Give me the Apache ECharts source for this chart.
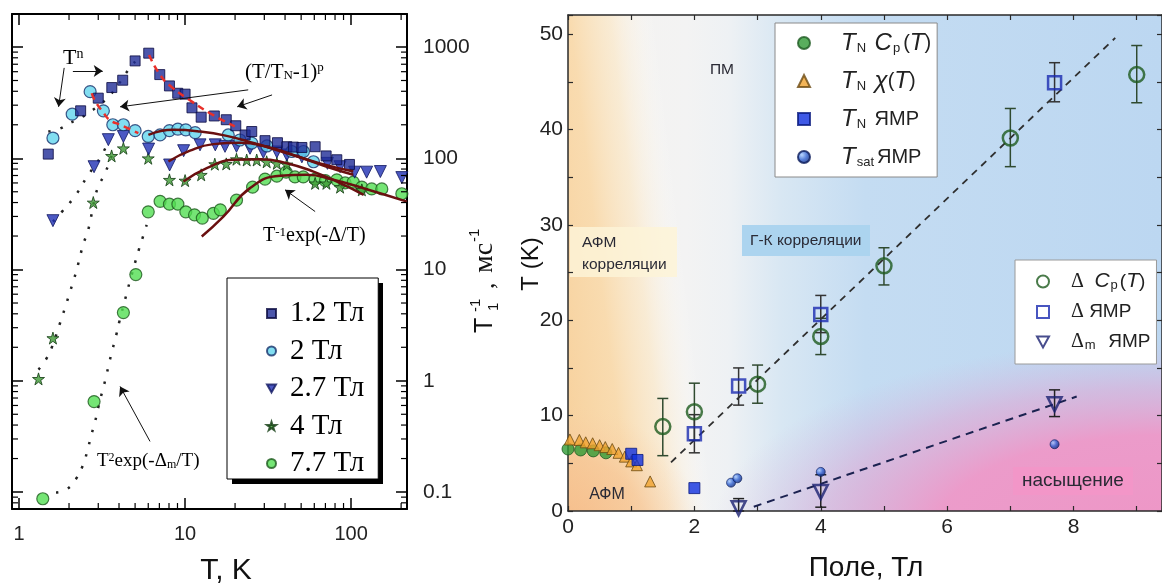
<!DOCTYPE html>
<html><head><meta charset="utf-8">
<script src="https://cdn.jsdelivr.net/npm/echarts@6/dist/echarts.min.js"></script>
<style>html,body{margin:0;padding:0;background:#fff}#c{width:1162px;height:588px}</style>
</head><body><div id="c"></div><script>
const SANS = "'Liberation Sans', Arial, Helvetica, sans-serif";
const SERIF = "'Liberation Serif', 'Times New Roman', serif";

// ---------- LEFT PANEL: 1/T1 (ms^-1) vs T (K) ----------
const T12 = [1.50,2.35,3.0,3.62,4.21,5.0,6.04,7.04,8.05,9.03,10.0,11.0,12.5,15.0,17.7,20.2,23.0,25.2,30.3,36.0,41.0,44.9,50.5,60.7,70.7,82.0,97.7];
const R12 = [109,267,347,432,503,750,880,565,447,384,377,284,234,240,222,196,162,174,144,138,127,126,125,127,105,97,88];
const T20 = [1.60,2.09,2.68,3.22,3.67,4.25,5.0,6.0,7.07,8.05,9.05,10.1,11.5,18.2,21.4,25.2,31.1,43.9,51.6,59.3];
const R20 = [152,249,397,267,200,200,177,157,162,177,183,180,170,162,146,137,129,115,115,93];
const T27 = [1.60,2.83,3.45,4.25,6.03,8.07,9.8,12.3,15.2,17.4,20.4,24.6,29.6,35.7,41,50.5,72,85.8,105,124,150,202];
const R27 = [27.5,84,147,157,121,87,117,132,132,128,128,123,113,114,107,103,90,84,75,75,76,67];
const T40 = [1.31,1.60,2.80,3.61,4.25,6.0,8.05,10.0,12.5,15.1,17.7,20.4,23.5,27.0,31.0,35.7,41,60.7,71,85.8,116];
const R40 = [1.04,2.42,40,105,123,100,64,63,71,88.5,89,98,96.5,96.5,93,90,88,59.5,59.5,55,52];
const T77 = [1.39,2.83,4.25,5.05,6.0,7.07,8.05,9.05,10.1,11.4,12.7,14.8,16.3,20.4,25.5,30.3,35.7,40.6,45.9,51.5,60.7,70,82,92,103,116,133,153,202];
const R77 = [0.087,0.65,4.1,9.0,33,41,38.7,38.7,33,31,29,32,34.4,42,55,65,69,75,68,68,65,63,64,60,61,55,53,53,48];

// fits T^-1 exp(-D/T)
const fitA_T = [6.01,8.50,12.3,17.8,25.8,41.0,65.0,103];
const fitA_R = [162,180,174,159,137,111,90,76];
const fitB_T = [7.94,10.7,14.8,21.4,31.1,44.9,71.4,103];
const fitB_R = [93.4,117,134,138,127,107,84,71];
const fitC_T = [9.77,13.5,19.5,28.3,41.0,59.3,85.8,119];
const fitC_R = [61.8,81.5,96.8,98.2,90.3,75.9,59.7,46.9];
const fitD_T = [12.6,17.0,24.6,37.4,54.1,78.2,124,217];
const fitD_R = [19.8,29.9,53.9,69.5,71,64,52.7,40.8];
// fits (T/TN-1)^p
const redA_T = [6.07,7.07,8.32,11.0,14.1,19.9];
const redA_R = [849,561,435,323,254,193];
const redB_T = [2.74,2.87,3.2,3.53,4.06,5.23];
const redB_R = [384,328,260,220,200,168];
// dotted fits T^n and T^2 exp(-Dm/T)
const dotA_T = [1.5,1.77,1.99,2.33,2.68,3.0,3.38,3.88,4.4,5.0];
const dotA_R = [174,185,205,229,262,295,345,440,580,740];
const dotB_T = [1.6,1.81,2.2,2.58,2.83,3.07,3.45];
const dotB_R = [27,33,47,69,84,100,140];
const dotC_T = [1.31,1.45,1.57,1.77,1.89,2.01,2.12,2.23,2.33,2.44,2.58,2.68,2.83,3.0,3.22,3.42,3.61];
const dotC_R = [1.26,1.55,1.97,3.34,4.5,6.05,7.8,10.1,13.1,17.0,21.5,27,40.8,55.7,68.6,84,105];
const dotD_T = [1.67,1.94,2.20,2.42,2.58,2.71,2.87,3.0,3.16,3.33,3.48,3.65,3.84,4.02,4.41,4.62,5.3,5.6,5.87];
const dotD_R = [0.099,0.106,0.131,0.173,0.235,0.316,0.43,0.575,0.785,1.06,1.42,1.90,2.54,3.41,5.8,7.55,15.6,20.1,25.2];
// annotation arrows [from, to] in data coordinates
const arrows = [
  [[1.87,649],[1.73,290]],
  [[2.11,610],[3.19,610]],
  [[24.0,412],[4.06,290]],
  [[33.4,371],[20.6,290]],
  [[60.7,33.2],[40.0,52]],
  [[6.15,0.285],[4.06,0.889]]
];
const minorX = [2,3,4,5,6,7,8,9,20,30,40,50,60,70,80,90,200];
const minorY = [0.08,0.09,0.2,0.3,0.4,0.5,0.6,0.7,0.8,0.9,2,3,4,5,6,7,8,9,20,30,40,50,60,70,80,90,200,300,400,500,600,700,800,900];

// ---------- RIGHT PANEL: T (K) vs field (T) ----------
const fTNcp = [0,0.2,0.4,0.6];            const tTNcp = [6.5,6.4,6.3,6.1];
const fTNchi = [0.03,0.18,0.28,0.39,0.50,0.59,0.70,0.80,0.90,1.0,1.09,1.30];
const tTNchi = [7.5,7.45,7.2,7.1,6.9,6.7,6.5,6.1,5.7,5.2,4.8,3.1];
const fTNnmr = [1.0,1.1,2.0];              const tTNnmr = [6.0,5.35,2.4];
const fTsat = [2.58,2.68,4.0,7.7];         const tTsat = [2.97,3.43,4.1,7.0];
const fDcp = [1.5,2,3,4,5,7,9];
const tDcp = [8.85,10.4,13.3,18.3,25.7,39.1,45.75];
const loDcp = [5.8,7.4,11.3,16.4,23.7,36.1,42.8];
const hiDcp = [11.8,13.4,15.3,20.2,27.6,42.2,48.8];
const fDnmr = [2,2.7,4,7.7];
const tDnmr = [8.1,13.1,20.6,44.9];
const loDnmr = [6.1,11.1,18.7,42.9];
const hiDnmr = [10.1,15.0,22.6,47.0];
const fDm = [2.7,4,7.7];
const tDm = [0.3,2.0,11.2];
const loDm = [0,0.4,9.9];
const hiDm = [1.3,3.8,12.7];
const lineUpF = [1.63,8.66]; const lineUpT = [5.1,49.6];
const lineLoF = [2.94,8.05]; const lineLoT = [0.45,12.0];

const zip = (a,b) => a.map((v,i)=>[v,b[i]]);
const zip3 = (a,b,c) => a.map((v,i)=>[v,b[i],c[i]]);
const STAR = 'path://M50,0 L61,35 L98,35 L68,57 L79,91 L50,70 L21,91 L32,57 L2,35 L39,35 Z';
const DOWN = 'path://M0,0 L100,0 L50,90 Z';

function decadeFmt(v){
  const l = Math.log10(v);
  if (Math.abs(l - Math.round(l)) > 1e-6) return '';
  const p = Math.round(l);
  return p < 0 ? Math.pow(10,p).toFixed(-p) : String(Math.round(Math.pow(10,p)));
}
const blackLine = {show:true, onZero:false, lineStyle:{color:'#000', width:2}};
const blackTick = {show:true, inside:true, length:11, lineStyle:{color:'#000', width:1.5}};
const grayLine = {show:true, onZero:false, lineStyle:{color:'#2a2a2a', width:1.5}};
const grayTick = {show:true, inside:true, length:5, lineStyle:{color:'#2a2a2a', width:1.2}};

function errRender(color){
  return function(params, api){
    const x = api.value(0), lo = api.value(1), hi = api.value(2);
    const p1 = api.coord([x, lo]), p2 = api.coord([x, hi]);
    const w = 5.5, st = {stroke:color, lineWidth:1.5};
    return {type:'group', children:[
      {type:'line', shape:{x1:p1[0],y1:p1[1],x2:p2[0],y2:p2[1]}, style:st},
      {type:'line', shape:{x1:p1[0]-w,y1:p1[1],x2:p1[0]+w,y2:p1[1]}, style:st},
      {type:'line', shape:{x1:p2[0]-w,y1:p2[1],x2:p2[0]+w,y2:p2[1]}, style:st}
    ]};
  };
}
function lineS(T, R, color, width, type, z, smooth){
  return {type:'line', xAxisIndex:0, yAxisIndex:0, data:zip(T,R), symbol:'none', smooth:smooth, z:z,
    silent:true, lineStyle:{color:color, width:width, type:type, cap:'butt'}};
}

const LEG_R1 = {
  'TN Cp': '{sp| }{i|T}{s|N} {i|C}{s|p}{n|(}{i|T}{n|)}',
  'TN chi': '{sp| }{i|T}{s|N} {i|χ}{n|(}{i|T}{n|)}',
  'TN NMR': '{sp| }{i|T}{s|N} {n|ЯМР}',
  'Tsat': '{sp| }{i|T}{s|sat}{n|ЯМР}'
};
const LEG_R2 = {
  'D Cp': '{sp| }{g|Δ}{n|  }{i|C}{s|p}{n|(}{i|T}{n|)}',
  'D NMR': '{sp| }{g|Δ}{n| ЯМР}',
  'Dm NMR': '{sp| }{g|Δ}{s|m}{n|  ЯМР}'
};

const PL=568, PT=15, PW=594, PH=496;
const tsatColor = {type:'radial', x:0.35, y:0.35, r:0.7, colorStops:[
  {offset:0,color:'#a8ccff'},{offset:0.5,color:'#2d5fd0'},{offset:1,color:'#0b2370'}]};

const option = {
  animation:false,
  backgroundColor:'#fff',
  grid:[
    {left:12, top:14, width:395, height:495, outerBoundsMode:'none', containLabel:false},
    {left:PL, top:PT, width:PW, height:PH, outerBoundsMode:'none', containLabel:false}
  ],
  xAxis:[
    {gridIndex:0, type:'log', logBase:10, min:0.907, max:217, position:'bottom', axisLine:blackLine, axisTick:blackTick,
     axisLabel:{fontFamily:SANS, fontSize:20, color:'#222', margin:15, formatter:decadeFmt, showMinLabel:false, showMaxLabel:false},
     splitLine:{show:false}, minorTick:{show:false}},
    {gridIndex:0, type:'log', logBase:10, min:0.907, max:217, position:'top', axisLine:blackLine, axisTick:blackTick,
     axisLabel:{show:false}, splitLine:{show:false}},
    {gridIndex:1, type:'value', min:0, max:9.4, interval:1, position:'bottom', axisLine:grayLine, axisTick:grayTick,
     axisLabel:{fontFamily:SANS, fontSize:21, color:'#222', margin:6,
       formatter:v => (Math.abs(v-Math.round(v))<1e-9 && Math.round(v)%2===0) ? String(Math.round(v)) : ''},
     splitLine:{show:false}},
    {gridIndex:1, type:'value', min:0, max:9.4, interval:1, position:'top', axisLine:grayLine, axisTick:grayTick,
     axisLabel:{show:false}, splitLine:{show:false}}
  ],
  yAxis:[
    {gridIndex:0, type:'log', logBase:10, min:0.0704, max:1980, position:'right', axisLine:blackLine, axisTick:blackTick,
     axisLabel:{fontFamily:SANS, fontSize:21, color:'#222', margin:16, formatter:decadeFmt, showMinLabel:false, showMaxLabel:false},
     splitLine:{show:false}},
    {gridIndex:0, type:'log', logBase:10, min:0.0704, max:1980, position:'left', axisLine:blackLine, axisTick:blackTick,
     axisLabel:{show:false}, splitLine:{show:false}},
    {gridIndex:1, type:'value', min:0, max:52, interval:5, position:'left', axisLine:grayLine, axisTick:grayTick,
     axisLabel:{fontFamily:SANS, fontSize:21, color:'#222', margin:5,
       formatter:v => (Math.abs(v-Math.round(v))<1e-9 && Math.round(v)%10===0) ? String(Math.round(v)) : ''},
     splitLine:{show:false}},
    {gridIndex:1, type:'value', min:0, max:52, interval:5, position:'right', axisLine:grayLine, axisTick:grayTick,
     axisLabel:{show:false}, splitLine:{show:false}}
  ],
  legend:[
    {data:[{name:'1.2 Тл'},{name:'2 Тл'},{name:'2.7 Тл', icon:DOWN},{name:'4 Тл'},{name:'7.7 Тл'}],
     orient:'vertical', left:227, top:278, padding:[21,14,1,39],
     itemWidth:9, itemHeight:9, itemGap:8.5, selectedMode:false, z:10,
     backgroundColor:'#fff', borderColor:'#000', borderWidth:1, borderRadius:0,
     formatter:n => '{sp| }' + n,
     textStyle:{fontFamily:SERIF, fontSize:29, color:'#000', rich:{sp:{width:9}}}},
    {data:[{name:'TN Cp'},{name:'TN chi'},{name:'TN NMR'},{name:'Tsat'}], orient:'vertical', left:775, top:23, padding:[8,6,8,22],
     itemWidth:12, itemHeight:12, itemGap:14, selectedMode:false,
     backgroundColor:'#fff', borderColor:'#8a8a8a', borderWidth:1, borderRadius:0,
     formatter:n => LEG_R1[n],
     textStyle:{fontFamily:SANS, fontSize:20, color:'#222', rich:{
       sp:{width:26}, i:{fontFamily:SANS, fontStyle:'italic', fontSize:24, color:'#222'},
       s:{fontFamily:SANS, fontSize:13, color:'#222', verticalAlign:'bottom', padding:[0,3,0,1]},
       n:{fontFamily:SANS, fontSize:20, color:'#222'}}}},
    {data:[{name:'D Cp'},{name:'D NMR'},{name:'Dm NMR', icon:DOWN}], orient:'vertical', left:1015, top:260, padding:[11,6,12,21],
     itemWidth:12, itemHeight:12, itemGap:10, selectedMode:false,
     backgroundColor:'#fff', borderColor:'#9a9a9a', borderWidth:1, borderRadius:0,
     formatter:n => LEG_R2[n],
     textStyle:{fontFamily:SANS, fontSize:19, color:'#222', rich:{
       sp:{width:17}, g:{fontFamily:SERIF, fontSize:20, color:'#222'},
       i:{fontFamily:SANS, fontStyle:'italic', fontSize:21, color:'#222'},
       s:{fontFamily:SANS, fontSize:13, color:'#222', verticalAlign:'bottom', padding:[0,2,0,1]},
       n:{fontFamily:SANS, fontSize:19, color:'#222'}}}}
  ],
  graphic:[
    // left legend drop shadow
    {type:'rect', z:1, silent:true, shape:{x:232,y:283,width:151,height:201}, style:{fill:'#000'}},
    // right panel backgrounds
    {type:'rect', z:-10, silent:true, shape:{x:PL,y:PT,width:PW,height:PH},
     style:{fill:{type:'linear', x:0, y:0, x2:1, y2:0, colorStops:[
       {offset:0,color:'#f4f2ef'},{offset:0.2,color:'#f3f3f3'},{offset:0.27,color:'#eef1f4'},
       {offset:0.36,color:'#d8e7f3'},{offset:0.5,color:'#c4dcf2'},{offset:1,color:'#bcd7f1'}]}}},
    {type:'rect', z:-9, silent:true, shape:{x:PL,y:PT,width:240,height:PH},
     style:{fill:{type:'linear', x:568, y:511, x2:768, y2:487, global:true, colorStops:[
       {offset:0,color:'rgba(247,208,155,1)'},{offset:0.3,color:'rgba(249,218,172,0.95)'},
       {offset:0.5,color:'rgba(251,232,200,0.7)'},{offset:0.62,color:'rgba(253,244,228,0.35)'},
       {offset:0.72,color:'rgba(255,255,255,0)'},{offset:1,color:'rgba(255,255,255,0)'}]}}},
    {type:'rect', z:-8, silent:true, shape:{x:PL,y:380,width:170,height:131},
     style:{fill:{type:'radial', x:568, y:540, r:135, global:true, colorStops:[
       {offset:0,color:'rgba(245,182,132,0.8)'},{offset:0.6,color:'rgba(246,192,145,0.55)'},
       {offset:1,color:'rgba(248,210,170,0)'}]}}},
    {type:'rect', z:-7, silent:true, x:700, y:300, scaleY:0.422, shape:{x:0,y:0,width:462,height:500},
     style:{fill:{type:'radial', x:462, y:545, r:450, global:true, colorStops:[
       {offset:0,color:'rgba(238,150,198,1)'},{offset:0.5,color:'rgba(238,152,200,0.95)'},
       {offset:0.75,color:'rgba(225,165,210,0.55)'},{offset:1,color:'rgba(210,185,225,0)'}]}}},
    // right panel region labels
    {type:'rect', z:-6, silent:true, shape:{x:570,y:227,width:107,height:50}, style:{fill:'rgba(253,243,215,0.85)'}},
    {type:'text', z:20, silent:true, x:582, y:243, style:{text:'АФМ', font:'15.5px '+SANS, fill:'#2a2a35', textVerticalAlign:'middle'}},
    {type:'text', z:20, silent:true, x:582, y:265, style:{text:'корреляции', font:'15.5px '+SANS, fill:'#2a2a35', textVerticalAlign:'middle'}},
    {type:'rect', z:-6, silent:true, shape:{x:742,y:225,width:128,height:31}, style:{fill:'#acd4ef'}},
    {type:'text', z:20, silent:true, x:750, y:241, style:{text:'Г-К корреляции', font:'15.5px '+SANS, fill:'#2a2a35', textVerticalAlign:'middle'}},
    {type:'rect', z:-6, silent:true, shape:{x:1013,y:467,width:120,height:28}, style:{fill:'rgba(243,150,200,0.9)'}},
    {type:'text', z:20, silent:true, x:1073, y:481, style:{text:'насыщение', font:'19px '+SANS, fill:'#2a2a35', textAlign:'center', textVerticalAlign:'middle'}},
    {type:'text', z:20, silent:true, x:722, y:70, style:{text:'ПМ', font:'15.5px '+SANS, fill:'#2a2a35', textAlign:'center', textVerticalAlign:'middle'}},
    {type:'text', z:20, silent:true, x:607, y:495, style:{text:'АФМ', font:'16px '+SANS, fill:'#2a2a35', textAlign:'center', textVerticalAlign:'middle'}},
    // axis titles
    {type:'text', z:20, silent:true, x:866, y:568, style:{text:'Поле, Тл', font:'28px '+SANS, fill:'#111', textAlign:'center', textVerticalAlign:'middle'}},
    {type:'text', z:20, silent:true, x:226, y:571, style:{text:'T, K', font:'30px '+SANS, fill:'#111', textAlign:'center', textVerticalAlign:'middle'}},
    {type:'text', z:20, silent:true, x:531, y:264, rotation:Math.PI/2, style:{text:'T (K)', font:'24px '+SANS, fill:'#111', textAlign:'center', textVerticalAlign:'middle'}},
    {type:'group', z:20, silent:true, x:485, y:333, rotation:Math.PI/2, children:[
      {type:'text', x:0, y:0, style:{text:'T', font:'25px '+SANS, fill:'#111', textVerticalAlign:'middle'}},
      {type:'text', x:21, y:-9, style:{text:'-1', font:'15px '+SANS, fill:'#111', textVerticalAlign:'middle'}},
      {type:'text', x:22, y:9, style:{text:'1', font:'15px '+SANS, fill:'#111', textVerticalAlign:'middle'}},
      {type:'text', x:44, y:2, style:{text:',', font:'26px '+SERIF, fill:'#111', textVerticalAlign:'middle'}},
      {type:'text', x:60, y:0, style:{text:'мс', font:'28px '+SERIF, fill:'#111', textVerticalAlign:'middle'}},
      {type:'text', x:91, y:-10, style:{text:'-1', font:'15px '+SANS, fill:'#111', textVerticalAlign:'middle'}}
    ]},
    // left annotations
    {type:'text', z:20, silent:true, x:63, y:58, style:{text:'{a|T}{b|n}', textVerticalAlign:'middle',
      rich:{a:{fontFamily:SERIF, fontSize:22, color:'#111'}, b:{fontFamily:SERIF, fontSize:14, color:'#111', verticalAlign:'top'}}}},
    {type:'text', z:20, silent:true, x:245, y:72, style:{text:'{a|(T/T}{s|N}{a|-1)}{b|p}', textVerticalAlign:'middle',
      rich:{a:{fontFamily:SERIF, fontSize:21, color:'#111'}, s:{fontFamily:SERIF, fontSize:13, color:'#111', verticalAlign:'bottom'},
            b:{fontFamily:SERIF, fontSize:13, color:'#111', verticalAlign:'top'}}}},
    {type:'text', z:20, silent:true, x:263, y:236, style:{text:'{a|T}{b|-1}{a|exp(-Δ/T)}', textVerticalAlign:'middle',
      rich:{a:{fontFamily:SERIF, fontSize:20, color:'#111'}, b:{fontFamily:SERIF, fontSize:13, color:'#111', verticalAlign:'top'}}}},
    {type:'text', z:20, silent:true, x:97, y:461, style:{text:'{a|T}{b|2}{a|exp(-Δ}{s|m}{a|/T)}', textVerticalAlign:'middle',
      rich:{a:{fontFamily:SERIF, fontSize:19, color:'#111'}, s:{fontFamily:SERIF, fontSize:12, color:'#111', verticalAlign:'bottom'},
            b:{fontFamily:SERIF, fontSize:12, color:'#111', verticalAlign:'top'}}}}
  ],
  series:[
    // minor log ticks (left panel)
    {type:'custom', xAxisIndex:0, yAxisIndex:0, silent:true, clip:false, z:6, data:minorX.map(v=>[v,1]),
     renderItem:(params, api)=>{
       const cs = params.coordSys; const x = api.coord([api.value(0),1])[0];
       const st = {stroke:'#000', lineWidth:1.2};
       return {type:'group', children:[
         {type:'line', shape:{x1:x,y1:cs.y+cs.height,x2:x,y2:cs.y+cs.height-6}, style:st},
         {type:'line', shape:{x1:x,y1:cs.y,x2:x,y2:cs.y+6}, style:st}]};
     }},
    {type:'custom', xAxisIndex:0, yAxisIndex:0, silent:true, clip:false, z:6, data:minorY.map(v=>[1,v]),
     renderItem:(params, api)=>{
       const cs = params.coordSys; const y = api.coord([1,api.value(1)])[1];
       const st = {stroke:'#000', lineWidth:1.2};
       return {type:'group', children:[
         {type:'line', shape:{x1:cs.x,y1:y,x2:cs.x+6,y2:y}, style:st},
         {type:'line', shape:{x1:cs.x+cs.width,y1:y,x2:cs.x+cs.width-6,y2:y}, style:st}]};
     }},
    // left data
    {name:'7.7 Тл', type:'scatter', xAxisIndex:0, yAxisIndex:0, data:zip(T77,R77), symbol:'circle', symbolSize:12, z:3,
     itemStyle:{color:'#52df52', borderColor:'#1e5a1e', borderWidth:1.2}},
    {name:'4 Тл', type:'scatter', xAxisIndex:0, yAxisIndex:0, data:zip(T40,R40), symbol:STAR, symbolSize:12, z:3,
     itemStyle:{color:'#3e9a35', borderColor:'#103a10', borderWidth:1}},
    {name:'2.7 Тл', type:'scatter', xAxisIndex:0, yAxisIndex:0, data:zip(T27,R27), symbol:'triangle', symbolRotate:180, symbolSize:12, z:3,
     itemStyle:{color:'#1f30b4', borderColor:'#101860', borderWidth:1}},
    {name:'2 Тл', type:'scatter', xAxisIndex:0, yAxisIndex:0, data:zip(T20,R20), symbol:'circle', symbolSize:12, z:3,
     itemStyle:{color:'#63d6ee', borderColor:'#15306a', borderWidth:1.2}},
    {name:'1.2 Тл', type:'scatter', xAxisIndex:0, yAxisIndex:0, data:zip(T12,R12), symbol:'rect', symbolSize:10, z:3,
     itemStyle:{color:'#1f2c96', borderColor:'#0a0a40', borderWidth:1}},
    // fits
    lineS(fitA_T, fitA_R, '#6a1010', 2.5, 'solid', 4, true),
    lineS(fitB_T, fitB_R, '#6a1010', 2.5, 'solid', 4, true),
    lineS(fitC_T, fitC_R, '#6a1010', 2.5, 'solid', 4, true),
    lineS(fitD_T, fitD_R, '#6a1010', 2.5, 'solid', 4, true),
    lineS(redA_T, redA_R, '#e8302a', 2.5, [7,5], 4, true),
    lineS(redB_T, redB_R, '#e8302a', 2.5, [7,5], 4, true),
    lineS(dotB_T, dotB_R, '#222', 2.5, [2.5,10], 2, true),
    lineS(dotC_T, dotC_R, '#222', 2.5, [2.5,10], 2, true),
    lineS(dotD_T, dotD_R, '#222', 2.5, [2.5,10], 2, true),
    Object.assign(lineS(dotA_T, dotA_R, '#222', 2.5, [2.5,10], 2, true), {
      markLine:{silent:true, symbol:['none','arrow'], symbolSize:9, label:{show:false},
        lineStyle:{color:'#111', width:1, type:'solid'}, emphasis:{disabled:true},
        data:arrows.map(a=>[{coord:a[0]},{coord:a[1]}])}}),
    // right panel
    {type:'custom', xAxisIndex:2, yAxisIndex:2, silent:true, z:2, data:zip3(fDcp,loDcp,hiDcp), encode:{x:0,y:[1,2]}, renderItem:errRender('#2f4a2f')},
    {type:'custom', xAxisIndex:2, yAxisIndex:2, silent:true, z:2, data:zip3(fDnmr,loDnmr,hiDnmr), encode:{x:0,y:[1,2]}, renderItem:errRender('#333')},
    {type:'custom', xAxisIndex:2, yAxisIndex:2, silent:true, z:2, data:zip3(fDm,loDm,hiDm), encode:{x:0,y:[1,2]}, renderItem:errRender('#222')},
    {type:'line', xAxisIndex:2, yAxisIndex:2, data:zip(lineUpF,lineUpT), symbol:'none', silent:true, z:2,
     lineStyle:{color:'#2f2f2f', width:1.8, type:[7,6]}},
    {type:'line', xAxisIndex:2, yAxisIndex:2, data:zip(lineLoF,lineLoT), symbol:'none', silent:true, z:2,
     lineStyle:{color:'#1b2250', width:2, type:[8,6]}},
    {name:'TN Cp', type:'scatter', xAxisIndex:2, yAxisIndex:2, data:zip(fTNcp,tTNcp), symbol:'circle', symbolSize:12, z:3,
     itemStyle:{color:'#2f9a35', borderColor:'#1e5a22', borderWidth:1}},
    {name:'TN chi', type:'scatter', xAxisIndex:2, yAxisIndex:2, data:zip(fTNchi,tTNchi), symbol:'triangle', symbolSize:11, z:3,
     itemStyle:{color:'#f0a32e', borderColor:'#6b4a12', borderWidth:1}},
    {name:'TN NMR', type:'scatter', xAxisIndex:2, yAxisIndex:2, data:zip(fTNnmr,tTNnmr), symbol:'rect', symbolSize:11, z:3,
     itemStyle:{color:'#0f2fe0', borderColor:'#0a1a80', borderWidth:1}},
    {name:'Tsat', type:'scatter', xAxisIndex:2, yAxisIndex:2, data:zip(fTsat,tTsat), symbol:'circle', symbolSize:9, z:3,
     itemStyle:{color:tsatColor, borderColor:'#0a1a5a', borderWidth:0.8}},
    {name:'D Cp', type:'scatter', xAxisIndex:2, yAxisIndex:2, data:zip(fDcp,tDcp), symbol:'circle', symbolSize:15, z:3,
     itemStyle:{color:'rgba(0,0,0,0)', borderColor:'#1d5a1d', borderWidth:2.5}},
    {name:'D NMR', type:'scatter', xAxisIndex:2, yAxisIndex:2, data:zip(fDnmr,tDnmr), symbol:'rect', symbolSize:13, z:3,
     itemStyle:{color:'rgba(0,0,0,0)', borderColor:'#1a2ab0', borderWidth:2.5}},
    {name:'Dm NMR', type:'scatter', xAxisIndex:2, yAxisIndex:2, data:zip(fDm,tDm), symbol:'triangle', symbolRotate:180, symbolSize:14, z:3,
     itemStyle:{color:'rgba(0,0,0,0)', borderColor:'#1a2070', borderWidth:2.5}}
  ]
};
const chart = echarts.init(document.getElementById('c'), null, {renderer:'canvas'});
chart.setOption(option);
</script></body></html>
